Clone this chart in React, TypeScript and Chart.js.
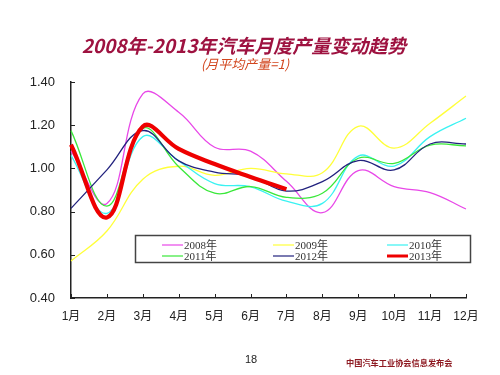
import React, { useEffect, useRef } from "react";
import { Chart, registerables } from "chart.js";

Chart.register(...registerables);

const months = ["1月", "2月", "3月", "4月", "5月", "6月", "7月", "8月", "9月", "10月", "11月", "12月"];
const yTicks = [0.4, 0.6, 0.8, 1.0, 1.2, 1.4];

const s2008 = [1.08, 0.838, 1.345, 1.26, 1.098, 1.08, 0.94, 0.795, 0.99, 0.916, 0.888, 0.812];
const s2009 = [0.571, 0.71, 0.95, 1.01, 0.968, 1.0, 0.975, 0.98, 1.195, 1.094, 1.209, 1.335];
const s2010 = [1.06, 0.792, 1.147, 1.035, 0.93, 0.915, 0.848, 0.838, 1.057, 1.011, 1.147, 1.232];
const s2011 = [1.175, 0.825, 1.185, 1.008, 0.885, 0.916, 0.866, 0.885, 1.047, 1.023, 1.108, 1.104];
const s2012 = [0.815, 0.993, 1.175, 1.035, 0.983, 0.963, 0.895, 0.939, 1.036, 0.993, 1.113, 1.113];
const s2013 = [1.11, 0.773, 1.194, 1.09, 1.02, 0.96, 0.903];

const seriesNames = ["2008年", "2009年", "2010年", "2011年", "2012年", "2013年"];
const seriesColors = ["#e848e8", "#ffff3a", "#3af2f2", "#3ae83a", "#22227e", "#ee0000"];
const seriesWidths = [1.3, 1.3, 1.3, 1.3, 1.3, 4.2];

const legendPlugin = {
  id: "customLegend",
  afterDraw(chart: any) {
    const ctx = chart.ctx;
    const xs = chart.scales.x;
    const ys = chart.scales.y;
    ctx.save();
    // inward ticks
    ctx.strokeStyle = "#222";
    ctx.lineWidth = 1;
    yTicks.forEach((v) => {
      const y = Math.round(ys.getPixelForValue(v)) + 0.5;
      ctx.beginPath();
      ctx.moveTo(xs.left, y);
      ctx.lineTo(xs.left + 4, y);
      ctx.stroke();
    });
    months.forEach((_, i) => {
      const x = Math.round(xs.getPixelForValue(i)) + 0.5;
      ctx.beginPath();
      ctx.moveTo(x, ys.bottom);
      ctx.lineTo(x, ys.bottom - 4);
      ctx.stroke();
    });
    // legend box
    const bx = 135, by = 235, bw = 335, bh = 27;
    ctx.fillStyle = "#fff";
    ctx.fillRect(bx, by, bw, bh);
    const colLine = [162, 273, 387];
    const rowY = [245, 256];
    ctx.font = '11px "Liberation Serif", "Noto Sans CJK SC", serif';
    ctx.textBaseline = "middle";
    ctx.textAlign = "left";
    seriesNames.forEach((name, i) => {
      const c = i % 3;
      const r = Math.floor(i / 3);
      const x0 = colLine[c];
      const y = rowY[r];
      ctx.strokeStyle = seriesColors[i];
      ctx.lineWidth = i === 5 ? 3 : 1.2;
      ctx.beginPath();
      ctx.moveTo(x0, y);
      ctx.lineTo(x0 + 21, y);
      ctx.stroke();
      ctx.fillStyle = "#333";
      ctx.fillText(name, x0 + 22, y + 1);
    });
    ctx.strokeStyle = "#444";
    ctx.lineWidth = 1.5;
    ctx.strokeRect(bx + 0.5, by + 0.5, bw, bh);
    ctx.restore();
  },
};

export default function App() {
  const ref = useRef<HTMLCanvasElement | null>(null);
  useEffect(() => {
    if (!ref.current) return;
    const all = [s2008, s2009, s2010, s2011, s2012, s2013];
    const chart = new Chart(ref.current, {
      type: "line",
      data: {
        labels: months,
        datasets: all.map((d, i) => ({
          label: seriesNames[i],
          data: d,
          borderColor: seriesColors[i],
          backgroundColor: seriesColors[i],
          borderWidth: seriesWidths[i],
          pointRadius: 0,
          tension: 0.4,
          fill: false,
          order: i === 5 ? 0 : 6 - i,
        })),
      },
      options: {
        responsive: false,
        animation: false,
        events: [],
        layout: { padding: { left: 0, top: 82, right: 34, bottom: 47 } },
        plugins: { legend: { display: false }, tooltip: { enabled: false }, title: { display: false } },
        scales: {
          x: {
            type: "category",
            offset: false,
            grid: { display: true, drawOnChartArea: false, drawTicks: false },
            border: { display: true, color: "#222", width: 1.5 },
            ticks: {
              padding: 11,
              color: "#222",
              font: { size: 12, family: '"Liberation Sans", Arial, "Noto Sans CJK SC", sans-serif' },
              maxRotation: 0,
              autoSkip: false,
            },
            afterFit: (s: any) => {
              s.height = 30;
            },
          },
          y: {
            min: 0.4,
            max: 1.4,
            grid: { display: true, drawOnChartArea: false, drawTicks: false },
            border: { display: true, color: "#222", width: 1.5 },
            ticks: {
              stepSize: 0.2,
              padding: 16,
              color: "#222",
              font: { size: 13, family: '"Liberation Sans", Arial, sans-serif' },
              callback: (v: any) => Number(v).toFixed(2),
            },
            afterFit: (s: any) => {
              s.width = 71;
            },
          },
        },
      },
      plugins: [legendPlugin],
    });
    return () => chart.destroy();
  }, []);

  return (
    <div style={{ position: "absolute", left: 0, top: 0, width: 500, height: 375, background: "#fff", overflow: "hidden" }}>
      <canvas ref={ref} width={500} height={375} style={{ position: "absolute", left: 0, top: 0 }} />
      <div
        style={{
          position: "absolute",
          left: 0,
          width: 500,
          top: 31,
          textAlign: "center",
          fontFamily: '"Noto Sans CJK SC", sans-serif',
          fontWeight: 700,
          fontStyle: "italic",
          fontSize: 19,
          lineHeight: "28px",
          color: "#9e1240",
          marginLeft: -6,
        }}
      >
        2008年-2013年汽车月度产量变动趋势
      </div>
      <div
        style={{
          position: "absolute",
          left: 0,
          width: 500,
          top: 55,
          textAlign: "center",
          fontFamily: '"Noto Sans CJK SC", sans-serif',
          fontStyle: "italic",
          fontSize: 13,
          lineHeight: "18px",
          color: "#d2461e",
          marginLeft: -5,
        }}
      >
        (月平均产量=1)
      </div>
      <div
        style={{
          position: "absolute",
          left: 240,
          width: 22,
          top: 352,
          textAlign: "center",
          fontFamily: '"Liberation Sans", Arial, sans-serif',
          fontSize: 11,
          lineHeight: "14px",
          color: "#222",
        }}
      >
        18
      </div>
      <div
        style={{
          position: "absolute",
          left: 346,
          top: 355,
          fontFamily: '"Noto Sans CJK SC", sans-serif',
          fontWeight: 700,
          fontSize: 8.2,
          lineHeight: "14px",
          color: "#8e1a22",
          whiteSpace: "nowrap",
        }}
      >
        中国汽车工业协会信息发布会
      </div>
    </div>
  );
}
